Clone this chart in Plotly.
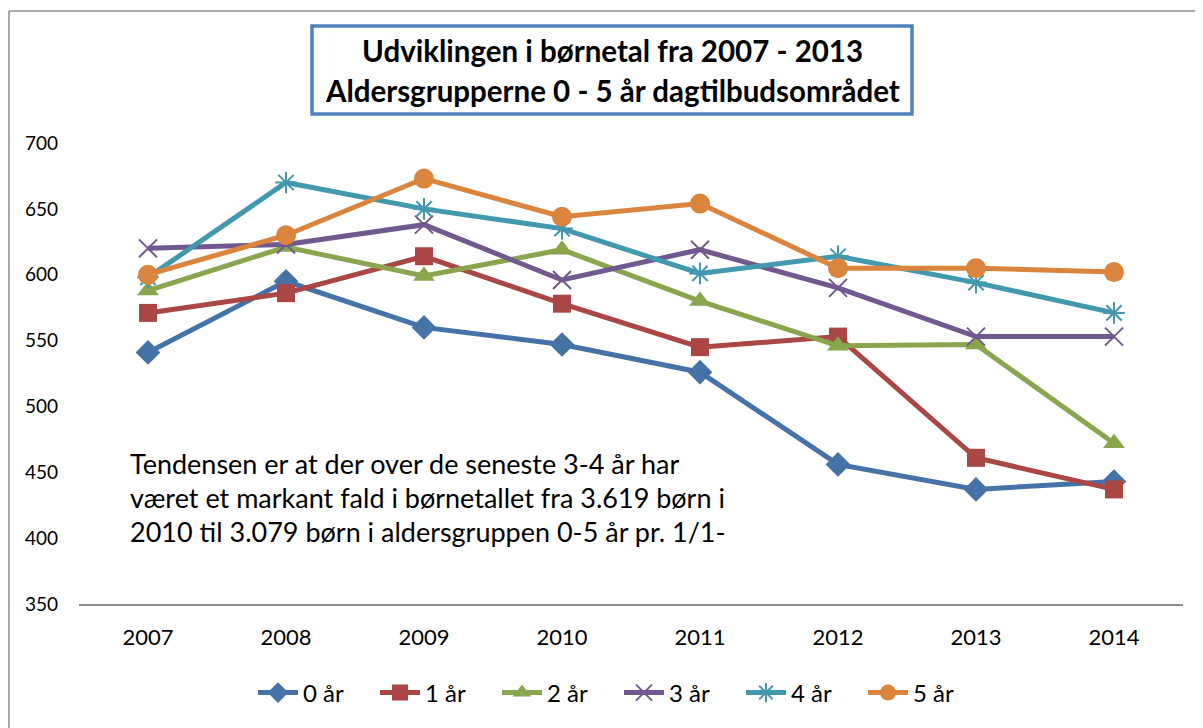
import plotly.graph_objects as go

years = ["2007", "2008", "2009", "2010", "2011", "2012", "2013", "2014"]
series_names = ["0 år", "1 år", "2 år", "3 år", "4 år", "5 år"]
v0 = [541, 595, 560, 547, 526, 456, 437, 443]
v1 = [571, 586, 614, 578, 545, 553, 461, 437]
v2 = [588, 621, 599, 619, 580, 546, 547, 472]
v3 = [620, 623, 638, 596, 619, 590, 553, 553]
v4 = [598, 670, 650, 635, 601, 614, 594, 571]
v5 = [600, 630, 673, 644, 654, 605, 605, 602]
values = [v0, v1, v2, v3, v4, v5]

colors = ["#4572A7", "#AA4643", "#89A54E", "#71588F", "#4198AF", "#DB843D"]
symbols = ["diamond", "square", "triangle-up", "x-thin", "asterisk", "circle"]
msizes = [19, 18, 19, 18, 18, 20]

title_lines = ["Udviklingen i børnetal fra 2007 - 2013",
               "Aldersgrupperne 0 - 5 år dagtilbudsområdet"]
note_lines = ["Tendensen er at der over de seneste 3-4 år har",
              "været et markant fald i børnetallet fra 3.619 børn i",
              "2010 til 3.079 børn i aldersgruppen 0-5 år pr. 1/1-"]

OFF = 8  # page body margin
W, H = 1203 - OFF, 728 - OFF
# plot area in page pixels
L, R, T, B = 79, 1183, 143, 604
FONT = "Lato"


def px(x):
    return (x - L) / (R - L)


def py(y):
    return (B - y) / (B - T)


fig = go.Figure()
for name, vals, c, s, ms in zip(series_names, values, colors, symbols, msizes):
    open_marker = s in ("x-thin", "asterisk")
    fig.add_trace(go.Scatter(
        x=years, y=vals, name=name, mode="lines+markers",
        line=dict(color=c, width=5),
        marker=dict(symbol=s, size=ms, color=c,
                    line=dict(color=c, width=2 if open_marker else 0)),
    ))

fig.update_layout(
    width=W, height=H,
    margin=dict(l=L - OFF, r=W - (R - OFF), t=T - OFF, b=H - (B - OFF)),
    paper_bgcolor="white", plot_bgcolor="white",
    font=dict(family=FONT, color="black"),
    showlegend=True,
    legend=dict(orientation="h", x=px(619), y=py(693), xanchor="center", yanchor="middle",
                font=dict(size=24, family=FONT), itemwidth=40, tracegroupgap=0,
                entrywidth=67, entrywidthmode="pixels",
                bgcolor="rgba(0,0,0,0)"),
    xaxis=dict(type="category", range=[-0.5, 7.5], showgrid=False, zeroline=False,
               showline=True, linecolor="#8C8C8C", linewidth=1.5,
               ticks="", tickfont=dict(size=22), ticklabelstandoff=13),
    yaxis=dict(range=[350, 700], dtick=50, showgrid=False, zeroline=False,
               showline=False, ticks="", tickfont=dict(size=19), ticklabelstandoff=20),
)

# outer chart border (top and left visible)
fig.add_shape(type="line", xref="paper", yref="paper", x0=px(9), x1=px(1220), y0=py(11), y1=py(11),
              line=dict(color="#8C8C8C", width=1.5))
fig.add_shape(type="line", xref="paper", yref="paper", x0=px(9), x1=px(9), y0=py(11), y1=py(760),
              line=dict(color="#8C8C8C", width=1.5))

# title box
fig.add_shape(type="rect", xref="paper", yref="paper", x0=px(312), x1=px(912), y0=py(26), y1=py(114),
              line=dict(color="#4F81BD", width=3.5), fillcolor="white")
for i, t in enumerate(title_lines):
    fig.add_annotation(text=f"<b>{t}</b>", xref="paper", yref="paper", x=px(612), y=py(50 + 40 * i),
                       xanchor="center", yanchor="middle", showarrow=False,
                       font=dict(size=29.5, family=FONT, color="black"))

for i, t in enumerate(note_lines):
    fig.add_annotation(text=t, xref="paper", yref="paper", x=px(128), y=py(463 + 34 * i),
                       xanchor="left", yanchor="middle", showarrow=False,
                       font=dict(size=27, family=FONT, color="black"))

fig.write_html("out.html")
